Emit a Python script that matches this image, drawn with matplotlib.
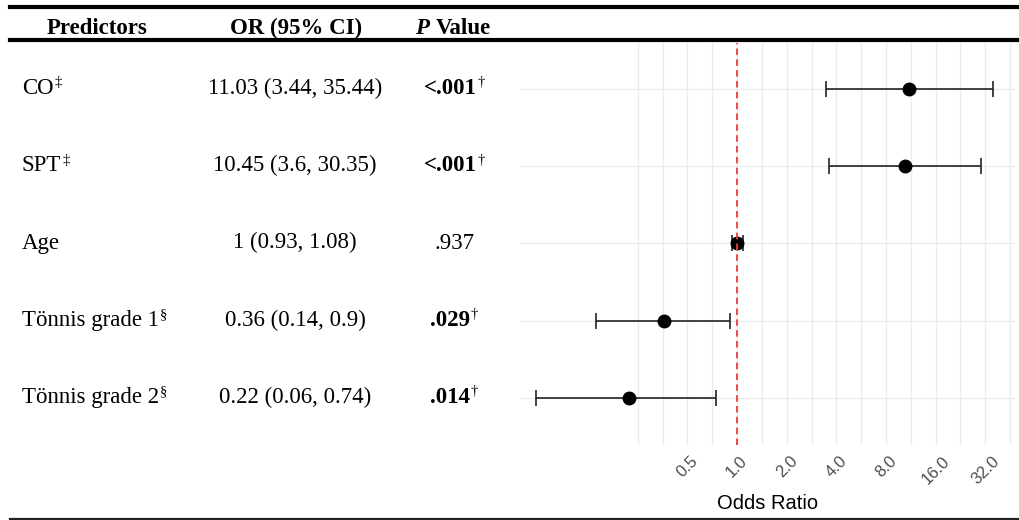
import numpy as np
import matplotlib
matplotlib.use("Agg")
import matplotlib.pyplot as plt
from matplotlib.lines import Line2D

predictors = ["CO", "SPT", "Age", "Tönnis grade 1", "Tönnis grade 2"]
pred_marks = ["\u2021", "\u2021", "", "\u00a7", "\u00a7"]
or_est = [11.03, 10.45, 1.0, 0.36, 0.22]
ci_low = [3.44, 3.6, 0.93, 0.14, 0.06]
ci_high = [35.44, 30.35, 1.08, 0.9, 0.74]
p_text = ["<.001", "<.001", ".937", ".029", ".014"]
p_sig = [True, True, False, True, True]
tick_vals = [0.5, 1, 2, 4, 8, 16, 32]
tick_labels = ["0.5", "1.0", "2.0", "4.0", "8.0", "16.0", "32.0"]

W, H = 1020, 520
fig = plt.figure(figsize=(W / 100, H / 100), dpi=100)

def fx(px):
    return px / W

def fy(py):
    return 1 - py / H

serif = "Liberation Serif"
sans = "Liberation Sans"

# forest plot panel
ax = fig.add_axes([fx(520), fy(445), fx(1015) - fx(520), fy(43) - fy(445)])
n = len(predictors)
ys = np.arange(n, 0, -1)

ax.set_xscale("log", base=2)
ax.set_xlim(2 ** -4.375, 2 ** 5.6)
ax.set_ylim(0.392, n + 0.595)

for g in 2 ** np.arange(-2, 5.51, 0.5):
    ax.axvline(g, color="#ebebeb", lw=1, zorder=0)
for y in ys:
    ax.axhline(y, color="#ebebeb", lw=1, zorder=0)

est = np.array(or_est)
lo = np.array(ci_low)
hi = np.array(ci_high)
ax.errorbar(est, ys, xerr=[est - lo, hi - est], fmt="o", color="black",
            ecolor="#222222", ms=9, capsize=6, elinewidth=1.2, capthick=1.2,
            zorder=3)
ax.axvline(1, color="#ee3b3b", lw=1.3, dashes=(3.6, 2.4), zorder=4)

ax.set_xticks(tick_vals)
ax.set_xticklabels(tick_labels, rotation=45, ha="center", fontsize=12,
                   color="#4d4d4d", family=sans)
ax.xaxis.set_minor_locator(matplotlib.ticker.NullLocator())
ax.tick_params(axis="x", length=0, pad=6)
ax.set_yticks([])
for s in ax.spines.values():
    s.set_visible(False)
ax.set_xlabel("Odds Ratio", fontsize=14.5, family=sans, labelpad=5)

# table lines
fig.add_artist(Line2D([fx(10), 1], [fy(7), fy(7)], color="black", lw=3))
fig.add_artist(Line2D([fx(10), 1], [fy(40), fy(40)], color="black", lw=3))
fig.add_artist(Line2D([fx(10), 1], [fy(518.5), fy(518.5)], color="#222222", lw=1.6))

# header
hdr_base = 34
fig.text(fx(97), fy(hdr_base), "Predictors", family=serif, weight="bold",
         fontsize=16.5, ha="center", va="baseline")
fig.text(fx(296), fy(hdr_base), "OR (95% CI)", family=serif, weight="bold",
         fontsize=16.5, ha="center", va="baseline")
fig.text(fx(415), fy(hdr_base), "P", family=serif, weight="bold",
         style="italic", fontsize=16.5, ha="left", va="baseline")
fig.text(fx(436), fy(hdr_base), "Value", family=serif, weight="bold",
         fontsize=16.5, ha="left", va="baseline")

# table rows, baseline placed a bit under each forest row
row_px = 89 + 77.25 * np.arange(n)
for i in range(n):
    base = fy(row_px[i] + 5)
    t = fig.text(fx(22), base, predictors[i], family=serif, fontsize=16.5,
                 ha="left", va="baseline")
    if pred_marks[i]:
        ax.annotate(pred_marks[i], xy=(1, 1), xycoords=t, xytext=(0.5, 1.2),
                    textcoords="offset points", ha="left", va="top",
                    family=serif, fontsize=10.5)
    or_str = f"{or_est[i]:g} ({ci_low[i]:g}, {ci_high[i]:g})"
    fig.text(fx(295), base, or_str, family=serif, fontsize=16.5,
             ha="center", va="baseline")
    if p_sig[i]:
        t = fig.text(fx(450), base, p_text[i], family=serif, weight="bold",
                     fontsize=16.5, ha="center", va="baseline")
        ax.annotate("\u2020", xy=(1, 1), xycoords=t, xytext=(0.5, 1.2),
                    textcoords="offset points", ha="left", va="top",
                    family=serif, fontsize=10.5)
    else:
        fig.text(fx(455), base, p_text[i], family=serif, fontsize=16.5,
                 ha="center", va="baseline")

fig.savefig("out.png", dpi=100)
